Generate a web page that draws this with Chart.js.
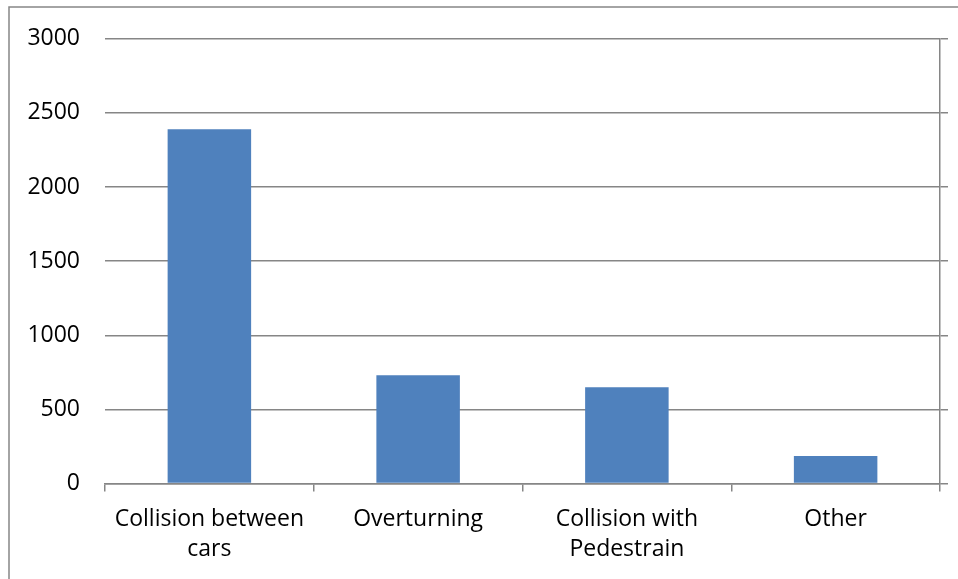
<!DOCTYPE html>
<html>
<head>
<meta charset="utf-8">
<script src="https://cdn.jsdelivr.net/npm/chart.js@4.4.0/dist/chart.umd.min.js"></script>
<style>
  html, body { margin: 0; padding: 0; background: #fff; }
  #wrap { position: relative; width: 958px; height: 579px; }
</style>
</head>
<body>
<div id="wrap"><canvas id="chart"></canvas></div>
<script>
// data
const categories = [["Collision between", "cars"], "Overturning", ["Collision with", "Pedestrain"], "Other"];
const accidents = [2390, 730, 650, 185];
const yMin = 0;
const yMax = 3000;
const yStep = 500;

const gridGray = '#868686';

// outer frame of the chart (only left and top edges fall inside the picture)
const framePlugin = {
  id: 'frame',
  beforeDraw(chart) {
    const c = chart.ctx;
    c.save();
    c.strokeStyle = gridGray;
    c.lineWidth = 1.5;
    c.strokeRect(9, 7, 1000, 700);
    c.restore();
  }
};

Chart.defaults.font.family = "'Open Sans', sans-serif";
Chart.defaults.font.size = 23;
Chart.defaults.color = '#000';

new Chart(document.getElementById('chart'), {
  type: 'bar',
  data: {
    labels: categories,
    datasets: [{
      data: accidents,
      backgroundColor: '#4F81BD',
      borderWidth: 0,
      categoryPercentage: 1,
      barPercentage: 0.4
    }]
  },
  options: {
    responsive: true,
    maintainAspectRatio: false,
    animation: false,
    events: [],
    layout: { padding: { left: 10, top: 37, right: 0, bottom: 0 } },
    plugins: { legend: { display: false }, tooltip: { enabled: false } },
    scales: {
      x: {
        offset: true,
        grid: { offset: true, drawOnChartArea: false, drawTicks: true, tickLength: 8, color: gridGray, lineWidth: 1.5 },
        border: { display: true, color: gridGray, width: 1.5 },
        ticks: { padding: 13, maxRotation: 0, autoSkip: false, font: { size: 23, lineHeight: 1.3 } },
        afterFit(s) { s.height = 95.5; }
      },
      y: {
        min: yMin, max: yMax,
        ticks: { stepSize: yStep, padding: 25, callback: v => String(v) },
        grid: { color: gridGray, lineWidth: 1.5, drawTicks: false },
        border: { display: false },
        afterFit(s) { s.width = 95; }
      },
      y2: {
        position: 'right',
        min: yMin, max: yMax,
        ticks: { stepSize: yStep, display: false },
        grid: { drawOnChartArea: false, drawTicks: true, tickLength: 8, color: gridGray, lineWidth: 1.5 },
        border: { display: true, color: gridGray, width: 1.5 },
        afterFit(s) { s.width = 18; }
      }
    }
  },
  plugins: [framePlugin]
});
</script>
</body>
</html>
